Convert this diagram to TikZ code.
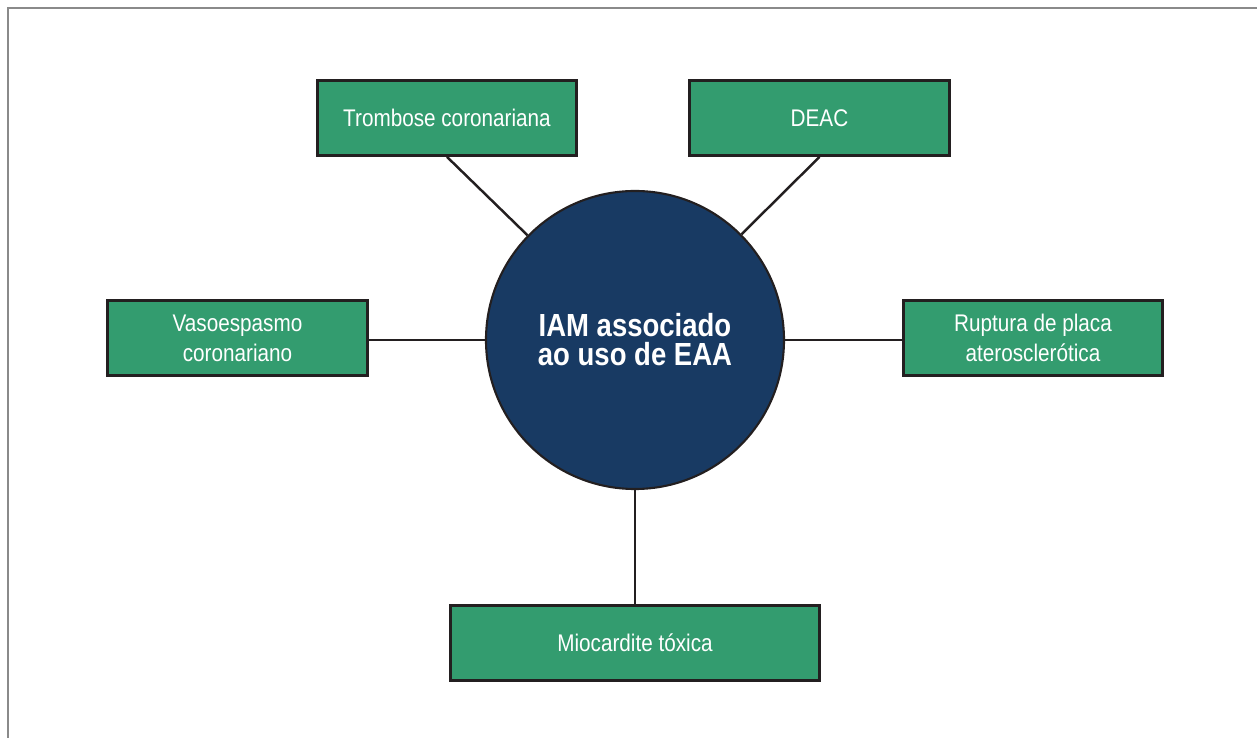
\documentclass[tikz,border=0pt]{standalone}
\usepackage{fontspec}
\setmainfont{Liberation Sans}[FakeStretch=0.86]
\usepackage{xcolor}
\usepackage{tikz}
\usetikzlibrary{positioning}
\definecolor{boxgreen}{RGB}{51,156,111}
\definecolor{hubnavy}{RGB}{24,58,99}
\definecolor{inkdark}{RGB}{35,31,32}
\definecolor{framegray}{RGB}{138,138,138}

\begin{document}
\begin{tikzpicture}[
  box/.style={rectangle, draw=inkdark, line width=1.6pt, fill=boxgreen, text=white, minimum width=5.19cm, minimum height=1.50cm, align=center, font=\fontsize{13.7}{17}\selectfont},
  hub/.style={circle, draw=inkdark, line width=1.2pt, fill=hubnavy, text=white, minimum size=5.96cm, align=center, font=\fontsize{18.2}{16.5}\selectfont\bfseries},
  link/.style={draw=inkdark, line width=1.4pt}
]
\useasboundingbox (-12.70,-7.96) rectangle (12.44,6.80);
\draw[framegray, line width=1.2pt] (12.44,6.64) -- (-12.54,6.64) -- (-12.54,-7.96);

\node[hub] (iam) at (0,0) {IAM associado\\ao uso de EAA};
\node[box] (trombose) at (-3.76,4.44) {Trombose coronariana};
\node[box] (deac) at (3.69,4.44) {DEAC};
\node[box] (vaso) at (-7.95,0.04) {Vasoespasmo\\coronariano};
\node[box] (ruptura) at (7.96,0.04) {Ruptura de placa\\aterosclerótica};
\node[box, minimum width=7.38cm] (mio) at (0,-6.06) {Miocardite tóxica};

\draw[link] (trombose.south) -- (iam);
\draw[link] (deac.south) -- (iam);
\draw[link] (iam) -- (iam -| vaso.east);
\draw[link] (iam) -- (iam -| ruptura.west);
\draw[link] (iam) -- (mio);
\end{tikzpicture}
\end{document}
